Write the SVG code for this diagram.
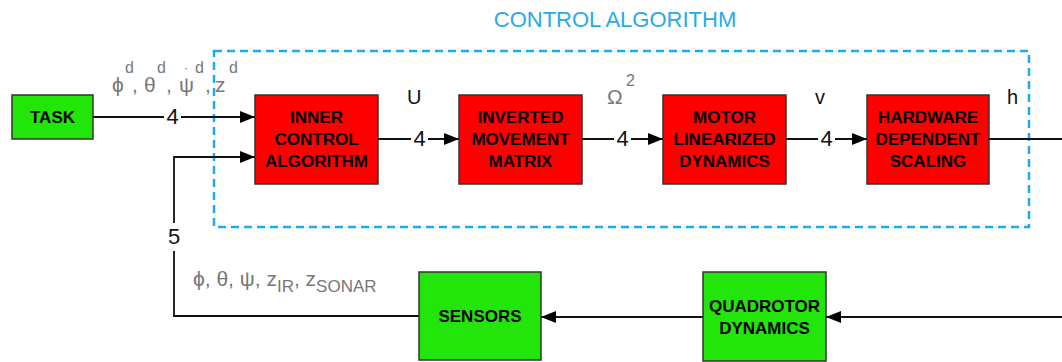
<svg xmlns="http://www.w3.org/2000/svg" width="1062" height="362" viewBox="0 0 1062 362">
  <style>
    .red { fill: #ff0000; stroke: #333; stroke-width: 1.5; }
    .green { fill: #22e60a; stroke: #333; stroke-width: 1.5; }
    .lbl { font-family: "Liberation Sans", Arial, sans-serif; font-weight: bold; font-size: 17px; fill: #000; text-anchor: middle; }
    .wire { fill: none; stroke: #111; stroke-width: 1.8; }
    .num { font-family: "Liberation Sans", Arial, sans-serif; font-size: 22px; fill: #111; text-anchor: middle; }
    .sig { font-family: "Liberation Sans", Arial, sans-serif; font-size: 20px; fill: #111; }
    .greek { font-family: "Liberation Sans", "DejaVu Sans", sans-serif; font-size: 21px; fill: #777; }
    .sup { font-family: "Liberation Sans", Arial, sans-serif; font-size: 16px; fill: #777; }
    .gap { fill: #fff; }
  </style>
  <defs>
    <marker id="arrow" viewBox="0 0 15 12" refX="15" refY="6" markerWidth="15" markerHeight="12" markerUnits="userSpaceOnUse" orient="auto">
      <path d="M0,0 L15,6 L0,12 z" fill="#000"/>
    </marker>
  </defs>

  <!-- control algorithm boundary -->
  <g id="control-algorithm">
    <rect x="214" y="51" width="815" height="176" fill="none" stroke="#1eaaf0" stroke-width="2.5" stroke-dasharray="8,5"/>
    <text x="615" y="27" font-family="Liberation Sans, Arial, sans-serif" font-size="22" fill="#29aae8" text-anchor="middle">CONTROL ALGORITHM</text>
  </g>

  <!-- connectors -->
  <g id="connectors">
    <line class="wire" x1="93" y1="117" x2="255" y2="117" marker-end="url(#arrow)"/>
    <polyline class="wire" points="419,316 174,316 174,157 255,157" marker-end="url(#arrow)"/>
    <line class="wire" x1="378" y1="139" x2="459" y2="139" marker-end="url(#arrow)"/>
    <line class="wire" x1="582" y1="139" x2="663" y2="139" marker-end="url(#arrow)"/>
    <line class="wire" x1="786" y1="139" x2="867" y2="139" marker-end="url(#arrow)"/>
    <line class="wire" x1="989" y1="139" x2="1062" y2="139"/>
    <line class="wire" x1="1062" y1="317" x2="826" y2="317" marker-end="url(#arrow)"/>
    <line class="wire" x1="703" y1="317" x2="541" y2="317" marker-end="url(#arrow)"/>

    <!-- bus widths -->
    <rect class="gap" x="164" y="106" width="17" height="20"/>
    <text class="num" x="172.5" y="124">4</text>
    <rect class="gap" x="411" y="128" width="17" height="20"/>
    <text class="num" x="419.5" y="146">4</text>
    <rect class="gap" x="614" y="128" width="17" height="20"/>
    <text class="num" x="622.5" y="146">4</text>
    <rect class="gap" x="818" y="128" width="17" height="20"/>
    <text class="num" x="826.5" y="146">4</text>
    <rect class="gap" x="164" y="223" width="20" height="28"/>
    <text class="num" x="174" y="244">5</text>

    <!-- signal names -->
    <text class="sig" x="407" y="104">U</text>
    <text class="greek" x="607" y="104">Ω</text>
    <text class="sup" x="626" y="86">2</text>
    <text class="sig" x="815" y="104">v</text>
    <text class="sig" x="1007" y="104">h</text>

    <!-- reference inputs: phi, theta, psi-dot, z (desired) -->
    <text class="greek" x="112" y="92">ϕ</text>
    <text class="sup" x="125" y="73">d</text>
    <text class="greek" x="132" y="92">,</text>
    <text class="greek" x="144" y="92">θ</text>
    <text class="sup" x="157" y="73">d</text>
    <text class="greek" x="166" y="92">,</text>
    <text class="greek" x="179" y="92">ψ<tspan font-size="16" dx="-10" dy="-12">˙</tspan></text>
    <text class="sup" x="195" y="73">d</text>
    <text class="greek" x="205" y="92">,</text>
    <text class="greek" x="215" y="92">z</text>
    <text class="sup" x="229" y="73">d</text>

    <!-- measured feedback -->
    <text class="greek" x="193" y="286">ϕ, θ, ψ, z<tspan font-size="17" dy="6">IR</tspan><tspan dy="-6">, z</tspan><tspan font-size="17" dy="6">SONAR</tspan></text>
  </g>

  <g id="task">
    <rect class="green" x="12" y="95" width="81" height="44"/>
    <text class="lbl" x="52.5" y="123">TASK</text>
  </g>

  <g id="inner-control">
    <rect class="red" x="255" y="95" width="123" height="89"/>
    <text class="lbl" x="316.5" y="123">INNER</text>
    <text class="lbl" x="316.5" y="145">CONTROL</text>
    <text class="lbl" x="316.5" y="167">ALGORITHM</text>
  </g>

  <g id="inverted-movement">
    <rect class="red" x="459" y="95" width="123" height="89"/>
    <text class="lbl" x="520.5" y="123">INVERTED</text>
    <text class="lbl" x="520.5" y="145">MOVEMENT</text>
    <text class="lbl" x="520.5" y="167">MATRIX</text>
  </g>

  <g id="motor-dynamics">
    <rect class="red" x="663" y="95" width="123" height="89"/>
    <text class="lbl" x="724.5" y="123">MOTOR</text>
    <text class="lbl" x="724.5" y="145">LINEARIZED</text>
    <text class="lbl" x="724.5" y="167">DYNAMICS</text>
  </g>

  <g id="hardware-scaling">
    <rect class="red" x="867" y="95" width="122" height="89"/>
    <text class="lbl" x="928" y="123">HARDWARE</text>
    <text class="lbl" x="928" y="145">DEPENDENT</text>
    <text class="lbl" x="928" y="167">SCALING</text>
  </g>

  <g id="sensors">
    <rect class="green" x="419" y="272" width="122" height="88"/>
    <text class="lbl" x="480" y="322">SENSORS</text>
  </g>

  <g id="quadrotor-dynamics">
    <rect class="green" x="703" y="272" width="123" height="89"/>
    <text class="lbl" x="764.5" y="312">QUADROTOR</text>
    <text class="lbl" x="764.5" y="334">DYNAMICS</text>
  </g>
</svg>
